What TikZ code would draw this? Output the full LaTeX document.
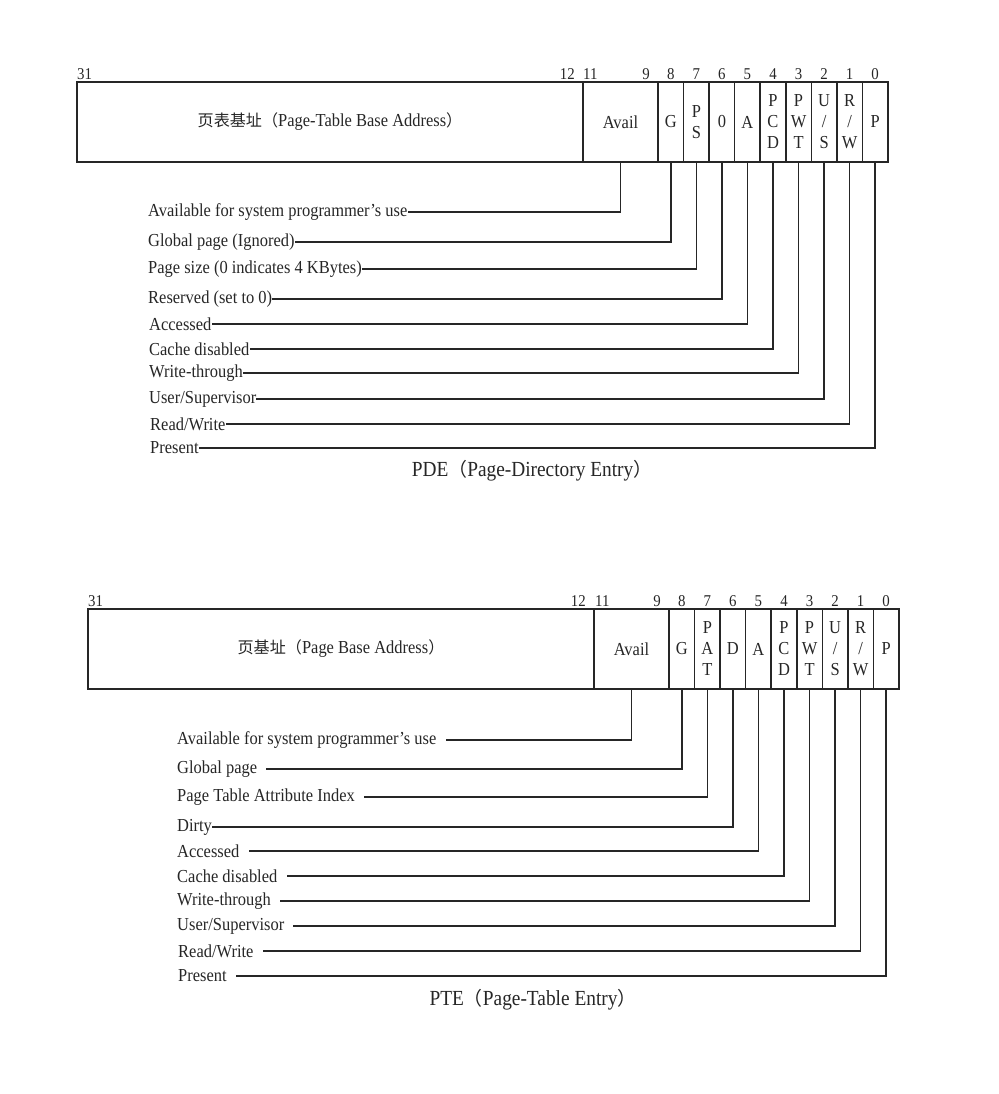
\documentclass[tikz,border=0pt]{standalone}
\usepackage{fontspec}
\setmainfont[FakeStretch=0.9]{Liberation Serif}
\newfontfamily\zhfont[Scale=0.88]{Noto Sans CJK SC}
\usepackage{tikz}
\usetikzlibrary{positioning}

\definecolor{ink}{gray}{0.15}

\tikzset{
  field/.style={draw=ink, text=ink, line width=1.6pt, outer sep=0pt, inner sep=0pt,
    minimum height=80pt, align=center, font=\fontsize{18.3}{21}\selectfont},
  bitcell/.style={field, minimum width=25.55pt},
  bitno/.style={text=ink, inner sep=0pt, font=\fontsize{16.5}{16.5}\selectfont},
  desc/.style={text=ink, anchor=west, inner xsep=0pt, inner ysep=2pt, font=\fontsize{18.3}{20}\selectfont},
  lead/.style={draw=ink, line width=1.5pt},
  caption/.style={text=ink, font=\fontsize{21.5}{24}\selectfont},
}

\begin{document}
\begin{tikzpicture}[x=1pt, y=-1pt]
\useasboundingbox (0,0) rectangle (998,1094);

% ---- PDE ----
\node[field, minimum width=506pt, anchor=north west] (pdebase) at (77,82) {{\zhfont 页表基址（}Page-Table Base Address{\zhfont ）}};
\node[field, minimum width=75pt, right=0pt of pdebase] (pdeavail) {Avail};
\node[bitcell, right=0pt of pdeavail] (pdeg) {G};
\node[bitcell, right=0pt of pdeg] (pdeps) {P\\S};
\node[bitcell, right=0pt of pdeps] (pdezero) {0};
\node[bitcell, right=0pt of pdezero] (pdea) {A};
\node[bitcell, right=0pt of pdea] (pdepcd) {P\\C\\D};
\node[bitcell, right=0pt of pdepcd] (pdepwt) {P\\W\\T};
\node[bitcell, right=0pt of pdepwt] (pdeus) {U\\/\\S};
\node[bitcell, right=0pt of pdeus] (pderw) {R\\/\\W};
\node[bitcell, right=0pt of pderw] (pdep) {P};

\node[bitno, above right=2pt and 0pt of pdebase.north west] {31};
\node[bitno, above left=2pt and 8pt of pdebase.north east] {12};
\node[bitno, above right=2pt and 0pt of pdeavail.north west] {11};
\node[bitno, above left=2pt and 8pt of pdeavail.north east] {9};
\node[bitno, above=2pt of pdeg] {8};
\node[bitno, above=2pt of pdeps] {7};
\node[bitno, above=2pt of pdezero] {6};
\node[bitno, above=2pt of pdea] {5};
\node[bitno, above=2pt of pdepcd] {4};
\node[bitno, above=2pt of pdepwt] {3};
\node[bitno, above=2pt of pdeus] {2};
\node[bitno, above=2pt of pderw] {1};
\node[bitno, above=2pt of pdep] {0};

\node[desc] (pdeavailtxt) at (148,212) {Available for system programmer's use};
\node[desc] (pdegtxt) at (148,242) {Global page (Ignored)};
\node[desc] (pdepstxt) at (148,269) {Page size (0 indicates 4 KBytes)};
\node[desc] (pdezerotxt) at (148,299) {Reserved (set to 0)};
\node[desc] (pdeatxt) at (149,324) {Accessed};
\node[desc] (pdepcdtxt) at (149,349) {Cache disabled};
\node[desc] (pdepwttxt) at (149,373) {Write-through};
\node[desc] (pdeustxt) at (149,399) {User/Supervisor};
\node[desc] (pderwtxt) at (150,424) {Read/Write};
\node[desc] (pdeptxt) at (150,448) {Present};

\draw[lead] (pdeavail.south) |- (pdeavailtxt.east);
\draw[lead] (pdeg.south) |- (pdegtxt.east);
\draw[lead] (pdeps.south) |- (pdepstxt.east);
\draw[lead] (pdezero.south) |- (pdezerotxt.east);
\draw[lead] (pdea.south) |- (pdeatxt.east);
\draw[lead] (pdepcd.south) |- (pdepcdtxt.east);
\draw[lead] (pdepwt.south) |- (pdepwttxt.east);
\draw[lead] (pdeus.south) |- (pdeustxt.east);
\draw[lead] (pderw.south) |- (pderwtxt.east);
\draw[lead] (pdep.south) |- (pdeptxt.east);

\node[caption] (pdecap) at (532,471) {PDE{\zhfont （}Page-Directory Entry{\zhfont ）}};

% ---- PTE ----
\node[field, minimum width=506pt, anchor=north west] (ptebase) at (88,609) {{\zhfont 页基址（}Page Base Address{\zhfont ）}};
\node[field, minimum width=75pt, right=0pt of ptebase] (pteavail) {Avail};
\node[bitcell, right=0pt of pteavail] (pteg) {G};
\node[bitcell, right=0pt of pteg] (ptepat) {P\\A\\T};
\node[bitcell, right=0pt of ptepat] (pted) {D};
\node[bitcell, right=0pt of pted] (ptea) {A};
\node[bitcell, right=0pt of ptea] (ptepcd) {P\\C\\D};
\node[bitcell, right=0pt of ptepcd] (ptepwt) {P\\W\\T};
\node[bitcell, right=0pt of ptepwt] (pteus) {U\\/\\S};
\node[bitcell, right=0pt of pteus] (pterw) {R\\/\\W};
\node[bitcell, right=0pt of pterw] (ptep) {P};

\node[bitno, above right=2pt and 0pt of ptebase.north west] {31};
\node[bitno, above left=2pt and 8pt of ptebase.north east] {12};
\node[bitno, above right=2pt and 1pt of pteavail.north west] {11};
\node[bitno, above left=2pt and 8pt of pteavail.north east] {9};
\node[bitno, above=2pt of pteg] {8};
\node[bitno, above=2pt of ptepat] {7};
\node[bitno, above=2pt of pted] {6};
\node[bitno, above=2pt of ptea] {5};
\node[bitno, above=2pt of ptepcd] {4};
\node[bitno, above=2pt of ptepwt] {3};
\node[bitno, above=2pt of pteus] {2};
\node[bitno, above=2pt of pterw] {1};
\node[bitno, above=2pt of ptep] {0};

\node[desc] (pteavailtxt) at (177,740) {Available for system programmer's use};
\node[desc] (ptegtxt) at (177,769) {Global page};
\node[desc] (ptepattxt) at (177,797) {Page Table Attribute Index};
\node[desc] (ptedtxt) at (177,827) {Dirty};
\node[desc] (pteatxt) at (177,851) {Accessed};
\node[desc] (ptepcdtxt) at (177,876) {Cache disabled};
\node[desc] (ptepwttxt) at (177,901) {Write-through};
\node[desc] (pteustxt) at (177,926) {User/Supervisor};
\node[desc] (pterwtxt) at (178,951) {Read/Write};
\node[desc] (pteptxt) at (178,976) {Present};

\draw[lead, shorten >=9pt] (pteavail.south) |- (pteavailtxt.east);
\draw[lead, shorten >=9pt] (pteg.south) |- (ptegtxt.east);
\draw[lead, shorten >=9pt] (ptepat.south) |- (ptepattxt.east);
\draw[lead] (pted.south) |- (ptedtxt.east);
\draw[lead, shorten >=9pt] (ptea.south) |- (pteatxt.east);
\draw[lead, shorten >=9pt] (ptepcd.south) |- (ptepcdtxt.east);
\draw[lead, shorten >=9pt] (ptepwt.south) |- (ptepwttxt.east);
\draw[lead, shorten >=9pt] (pteus.south) |- (pteustxt.east);
\draw[lead, shorten >=9pt] (pterw.south) |- (pterwtxt.east);
\draw[lead, shorten >=9pt] (ptep.south) |- (pteptxt.east);

\node[caption] (ptecap) at (533,1000) {PTE{\zhfont （}Page-Table Entry{\zhfont ）}};
\end{tikzpicture}
\end{document}
